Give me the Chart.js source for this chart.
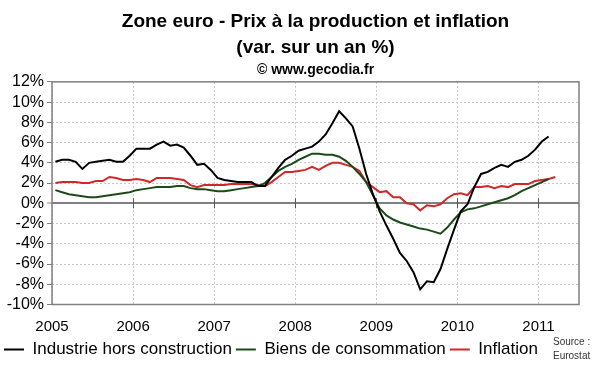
<!DOCTYPE html>
<html lang="fr">
<head>
<meta charset="utf-8">
<title>Zone euro - Prix à la production et inflation</title>
<script src="https://cdn.jsdelivr.net/npm/chart.js@4.4.1/dist/chart.umd.min.js"></script>
<style>
  html, body { margin: 0; padding: 0; background: #fff; }
  #cadre { width: 600px; height: 372px; }
</style>
</head>
<body>
<div id="cadre"><canvas id="graphique"></canvas></div>
<script>
// Variation sur un an (%), un point par mois à partir de janvier 2005
const anneeDebut = 2005;
const anneeFin = 2011;

const industrie = [
  4.1, 4.3, 4.3, 4.1, 3.4, 4.0, 4.1, 4.2, 4.3, 4.1, 4.1, 4.7,
  5.4, 5.4, 5.4, 5.8, 6.1, 5.7, 5.8, 5.5, 4.7, 3.8, 3.9, 3.3,
  2.5, 2.3, 2.2, 2.1, 2.1, 2.1, 1.7, 1.7, 2.6, 3.5, 4.3, 4.7,
  5.2, 5.4, 5.6, 6.1, 6.8, 7.9, 9.1, 8.4, 7.6, 5.4, 2.9, 0.9,
  -0.8, -2.2, -3.5, -4.9, -5.7, -6.8, -8.5, -7.7, -7.8, -6.5, -4.5, -2.6,
  -0.8, -0.1, 1.6, 2.9, 3.1, 3.5, 3.8, 3.6, 4.1, 4.3, 4.7, 5.3,
  6.1, 6.6
];

const biensConso = [
  1.3, 1.1, 0.9, 0.8, 0.7, 0.6, 0.6, 0.7, 0.8, 0.9, 1.0, 1.1,
  1.3, 1.4, 1.5, 1.6, 1.6, 1.6, 1.7, 1.7, 1.5, 1.4, 1.4, 1.3,
  1.2, 1.2, 1.3, 1.4, 1.5, 1.6, 1.7, 2.0, 2.6, 3.2, 3.6, 3.9,
  4.3, 4.6, 4.9, 4.9, 4.8, 4.8, 4.6, 4.2, 3.6, 2.9, 2.1, 0.8,
  -0.5, -1.2, -1.6, -1.9, -2.1, -2.3, -2.5, -2.6, -2.8, -3.0, -2.4, -1.6,
  -0.9, -0.6, -0.5, -0.3, -0.1, 0.1, 0.3, 0.5, 0.8, 1.2, 1.5, 1.8,
  2.1, 2.4
];

const inflation = [
  2.0, 2.1, 2.1, 2.1, 2.0, 2.0, 2.2, 2.2, 2.6, 2.5, 2.3, 2.3,
  2.4, 2.3, 2.1, 2.5, 2.5, 2.5, 2.4, 2.3, 1.8, 1.6, 1.8, 1.8,
  1.8, 1.8, 1.9, 1.9, 1.9, 1.9, 1.8, 1.7, 2.1, 2.6, 3.1, 3.1,
  3.2, 3.3, 3.6, 3.3, 3.7, 4.0, 4.0, 3.8, 3.6, 3.2, 2.1, 1.6,
  1.1, 1.2, 0.6, 0.6, 0.0, -0.1, -0.7, -0.2, -0.3, -0.1, 0.5, 0.9,
  1.0, 0.8, 1.6, 1.6, 1.7, 1.5, 1.7, 1.6, 1.9, 1.9, 1.9, 2.2,
  2.3, 2.4, 2.6
];

const police = 'Arial, "Liberation Sans", sans-serif';
Chart.defaults.font.family = police;

// chaque valeur mensuelle est placée au milieu de son mois
function enPoints(valeurs) {
  return valeurs.map((v, i) => ({ x: i + 0.5, y: v }));
}

function estZero(ctx) {
  return ctx.tick && ctx.tick.value === 0;
}

// cadre du graphique, repères annuels sur l'axe du zéro, source
const habillage = {
  id: 'habillage',
  beforeDatasetsDraw(chart) {
    const { ctx, scales: { x, y } } = chart;
    const y0 = y.getPixelForValue(0);
    ctx.save();
    ctx.strokeStyle = '#555';
    ctx.lineWidth = 1;
    x.ticks.forEach(t => {
      if (t.value === 0) return;
      const px = Math.round(x.getPixelForValue(t.value)) + 0.5;
      ctx.beginPath();
      ctx.moveTo(px, y0 - 5);
      ctx.lineTo(px, y0 + 5);
      ctx.stroke();
    });
    ctx.restore();
  },
  afterDraw(chart) {
    const { ctx, chartArea: a } = chart;
    ctx.save();
    ctx.strokeStyle = '#808080';
    ctx.lineWidth = 1.5;
    ctx.strokeRect(a.left, a.top, a.right - a.left, a.bottom - a.top);
    ctx.fillStyle = '#333';
    ctx.font = '10px ' + police;
    ctx.textAlign = 'left';
    ctx.textBaseline = 'middle';
    ctx.fillText('Source :', 553, 342);
    ctx.fillText('Eurostat', 553, 356);
    ctx.restore();
  }
};

new Chart(document.getElementById('graphique'), {
  type: 'line',
  data: {
    datasets: [
      {
        label: 'Industrie hors construction',
        data: enPoints(industrie),
        borderColor: '#000000',
        backgroundColor: '#000000'
      },
      {
        label: 'Biens de consommation',
        data: enPoints(biensConso),
        borderColor: '#1b4a1b',
        backgroundColor: '#1b4a1b'
      },
      {
        label: 'Inflation',
        data: enPoints(inflation),
        borderColor: '#d02828',
        backgroundColor: '#d02828'
      }
    ]
  },
  options: {
    responsive: true,
    maintainAspectRatio: false,
    animation: false,
    layout: { padding: { left: 0, right: 21, top: 0, bottom: 4 } },
    elements: {
      line: { borderWidth: 2, tension: 0 },
      point: { radius: 0 }
    },
    scales: {
      x: {
        type: 'linear',
        min: 0,
        max: (anneeFin - anneeDebut) * 12 + 6,
        ticks: {
          stepSize: 12,
          includeBounds: false,
          autoSkip: false,
          maxRotation: 0,
          padding: 13.5,
          color: '#000',
          font: { size: 15 },
          callback: v => (v % 12 === 0 ? String(anneeDebut + v / 12) : '')
        },
        grid: { color: '#c8c8c8', drawTicks: false },
        border: { display: false, dash: [2, 2] },
        afterFit(scale) { scale.height = 32.5; }
      },
      y: {
        min: -10,
        max: 12,
        ticks: {
          stepSize: 2,
          autoSkip: false,
          padding: 3,
          color: '#000',
          font: { size: 16 },
          callback: v => v + '%'
        },
        grid: {
          color: ctx => (estZero(ctx) ? '#808080' : '#c8c8c8'),
          lineWidth: ctx => (estZero(ctx) ? 2 : 1),
          tickLength: 5,
          tickColor: '#808080',
          tickWidth: 1
        },
        border: { display: false, dash: ctx => (estZero(ctx) ? [] : [2, 2]) },
        afterFit(scale) { scale.width = 52; }
      }
    },
    plugins: {
      title: {
        display: true,
        fullSize: false,
        text: ['Zone euro - Prix à la production et inflation', '(var. sur un an %)'],
        color: '#000',
        font: { size: 19, weight: 'bold', lineHeight: 1.37 },
        padding: { top: 9, bottom: 0 }
      },
      subtitle: {
        display: true,
        fullSize: false,
        text: '© www.gecodia.fr',
        color: '#000',
        font: { size: 14, weight: 'bold', lineHeight: 1.2 },
        padding: { top: 1, bottom: 3 }
      },
      legend: {
        position: 'bottom',
        align: 'start',
        labels: {
          boxWidth: 20,
          boxHeight: 0,
          padding: 4,
          color: '#000',
          font: { size: 17 }
        }
      },
      tooltip: { enabled: false }
    }
  },
  plugins: [habillage]
});
</script>
</body>
</html>
